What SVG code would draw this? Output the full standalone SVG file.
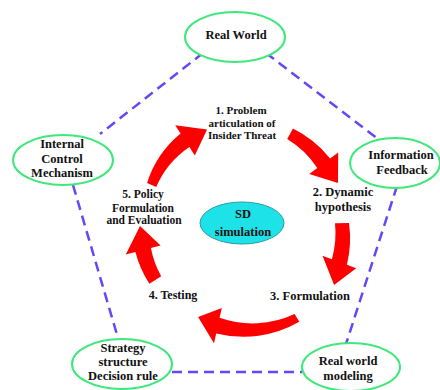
<svg xmlns="http://www.w3.org/2000/svg" width="440" height="390" viewBox="0 0 440 390">
  <style>
    .node { fill: #ffffff; stroke: #3ee87a; stroke-width: 2; }
    .sd { fill: #1de3e8; stroke: #2a9aa0; stroke-width: 1; }
    .link { stroke: #6646f6; stroke-width: 2.5; stroke-dasharray: 10 6; fill: none; }
    .step { fill: #ff0000; stroke: none; }
    text { font-family: "Liberation Serif", "Times New Roman", serif; font-weight: bold; fill: #111111; text-anchor: middle; }
    .lbl { font-size: 12.5px; }
  </style>
  <rect width="440" height="390" fill="#ffffff"/>

  <!-- dashed pentagon joining the outer nodes -->
  <g id="connectors">
    <line class="link" x1="203" y1="53" x2="100" y2="134"/>
    <line class="link" x1="266" y1="53" x2="378" y2="139"/>
    <line class="link" x1="73" y1="185" x2="118" y2="338"/>
    <line class="link" x1="397" y1="186" x2="346" y2="344"/>
    <line class="link" x1="172" y1="372" x2="302" y2="372"/>
  </g>

  <!-- red cycle arrows -->
  <g id="cycle">
    <path class="step" d="M147.1,182.9 A105 105 0 0 1 180.6,133.6 L175.2,125.2 L207.1,129.5 L194.8,155.4 L189.4,147.0 A92.5 92.5 0 0 0 156.2,187.0 Z"/>
    <path class="step" d="M293.0,128.6 A111 111 0 0 1 330.1,158.5 L338.2,152.6 L338.0,183.0 L309.2,174.0 L317.3,168.0 A97 97 0 0 0 287.2,139.1 Z"/>
    <path class="step" d="M349.0,222.9 A111 111 0 0 1 346.9,264.7 L356.2,268.2 L334.1,285.0 L322.5,255.7 L331.9,259.2 A96 96 0 0 0 335.0,223.2 Z"/>
    <path class="step" d="M299.3,321.8 A112 112 0 0 1 216.2,333.4 L214.0,343.2 L198.1,316.9 L221.8,308.0 L219.6,317.8 A100 100 0 0 0 294.6,314.1 Z"/>
    <path class="step" d="M149.4,283.8 A108 108 0 0 1 135.4,252.0 L125.8,254.5 L140.0,226.0 L160.6,245.5 L150.9,248.0 A93 93 0 0 0 161.2,276.2 Z"/>
  </g>

  <!-- step labels -->
  <g id="step1">
    <text x="241" y="114" font-size="11">1. Problem</text>
    <text x="242" y="127" font-size="11">articulation of</text>
    <text x="242" y="139" font-size="11">Insider Threat</text>
  </g>
  <g id="step2">
    <text x="343" y="196" font-size="12.5">2. Dynamic</text>
    <text x="343" y="211" font-size="12.5">hypothesis</text>
  </g>
  <g id="step3">
    <text x="310" y="300" font-size="12.5">3. Formulation</text>
  </g>
  <g id="step4">
    <text x="173" y="299" font-size="12">4. Testing</text>
  </g>
  <g id="step5">
    <text x="143" y="198" font-size="11.5">5. Policy</text>
    <text x="143" y="212" font-size="11.5">Formulation</text>
    <text x="144" y="224" font-size="11.5">and Evaluation</text>
  </g>

  <!-- centre -->
  <g id="sd-simulation">
    <ellipse class="sd" cx="242" cy="223" rx="42" ry="21"/>
    <text class="lbl" x="243" y="218">SD</text>
    <text class="lbl" x="243" y="236">simulation</text>
  </g>

  <!-- outer nodes -->
  <g id="real-world">
    <ellipse class="node" cx="235" cy="37" rx="50" ry="25"/>
    <text class="lbl" x="236" y="39">Real World</text>
  </g>
  <g id="internal-control">
    <ellipse class="node" cx="63" cy="160" rx="50" ry="25"/>
    <text class="lbl" x="62" y="148">Internal</text>
    <text class="lbl" x="62" y="163">Control</text>
    <text class="lbl" x="62" y="177">Mechanism</text>
  </g>
  <g id="information-feedback">
    <ellipse class="node" cx="395" cy="163" rx="45" ry="25"/>
    <text class="lbl" x="401" y="159">Information</text>
    <text class="lbl" x="402" y="174">Feedback</text>
  </g>
  <g id="strategy-structure">
    <ellipse class="node" cx="122" cy="364" rx="50" ry="25"/>
    <text class="lbl" x="123" y="352">Strategy</text>
    <text class="lbl" x="123" y="366">structure</text>
    <text class="lbl" x="123" y="380">Decision rule</text>
  </g>
  <g id="real-world-modeling">
    <ellipse class="node" cx="351" cy="367" rx="49" ry="24"/>
    <text class="lbl" x="348" y="365">Real world</text>
    <text class="lbl" x="348" y="380">modeling</text>
  </g>
</svg>
